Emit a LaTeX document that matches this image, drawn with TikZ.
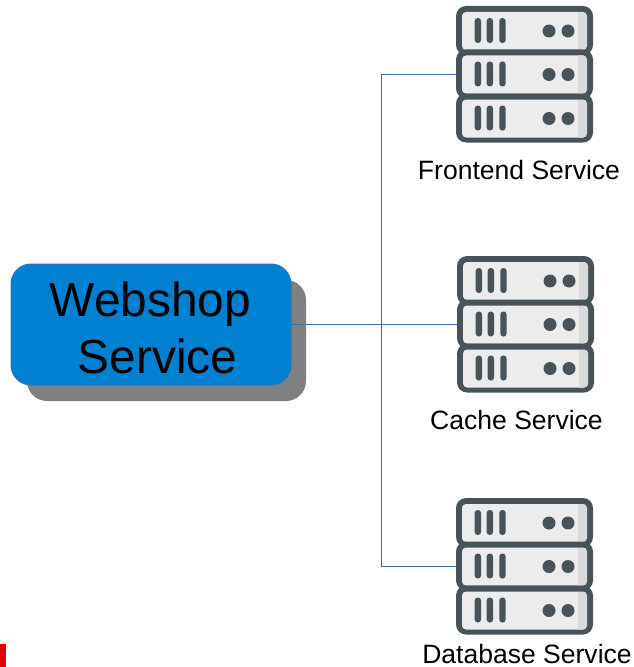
\documentclass[tikz,border=0pt]{standalone}
\usepackage{fontspec}
\setmainfont{Liberation Sans}
\definecolor{srvdark}{HTML}{475359}
\definecolor{srvlight}{HTML}{ECECEC}
\definecolor{srvband}{HTML}{DADADA}
\definecolor{boxblue}{HTML}{0080D0}
\definecolor{boxedge}{HTML}{2F74B8}
\definecolor{linkblue}{HTML}{3A6DB0}
\tikzset{
  x=0.75pt,y=-0.75pt,
  link/.style={draw=linkblue,line width=0.75pt},
  label/.style={anchor=base,inner sep=0pt,font=\fontsize{19.9}{24}\selectfont},
  bigtext/.style={anchor=base,inner sep=0pt,font=\fontsize{35.9}{40}\selectfont},
  anchorbox/.style={inner sep=0pt,minimum width=102.75pt,minimum height=102.75pt},
  pics/srvunit/.style={code={
    \fill[srvdark,rounded corners=7.5pt] (0,0) rectangle (137,49);
    \fill[srvlight,rounded corners=3pt] (6,6) rectangle (131,44);
    \begin{scope}
      \clip[rounded corners=3pt] (6,6) rectangle (131,44);
      \fill[srvband] (122,6) rectangle (131,44);
    \end{scope}
    \fill[srvdark,rounded corners=2.2pt] (18.7,12) rectangle (25,37);
    \fill[srvdark,rounded corners=2.2pt] (30.7,12) rectangle (37,37);
    \fill[srvdark,rounded corners=2.2pt] (43.3,12) rectangle (49.6,37);
    \fill[srvdark] (93,25) circle[radius=6.5];
    \fill[srvdark] (112,25) circle[radius=6.5];
  }},
  pics/srvstack/.style={code={
    \pic at (0,0) {srvunit};
    \pic at (0,43.5) {srvunit};
    \pic at (0,87.5) {srvunit};
  }}
}
\begin{document}
\begin{tikzpicture}
\useasboundingbox (0,0) rectangle (634,667);
\fill[red!88!black] (0,644) rectangle (6,667);
% shadow and box
\fill[gray,rounded corners=15pt] (27,280) rectangle (306,401);
\node[draw=boxedge,fill=boxblue,line width=0.75pt,rounded corners=15pt,minimum width=210pt,minimum height=90.75pt,inner sep=0pt] (web) at (151,324.5) {};
\node[bigtext] (webA) at (150.5,316) {Webshop};
\node[bigtext] (webB) at (157.5,373) {Service};
% icons
\node[anchorbox] (fe) at (524.5,74.5) {};
\node[anchorbox] (ca) at (525.5,324.5) {};
\node[anchorbox] (db) at (524.5,566.5) {};
\draw[link,line width=1pt] (web.east) -- (ca.west);
\coordinate (busT) at (381,324.5);
\draw[link] (busT) |- (fe.west);
\draw[link] (busT) |- (db.west);
\pic at (456,6) {srvstack};
\pic at (457,256) {srvstack};
\pic at (456,498) {srvstack};
% labels
\node[label] (lf) at (519,179) {Frontend Service};
\node[label] (lc) at (516.5,429) {Cache Service};
\node[label] (ld) at (527,663) {Database Service};
\end{tikzpicture}
\end{document}
